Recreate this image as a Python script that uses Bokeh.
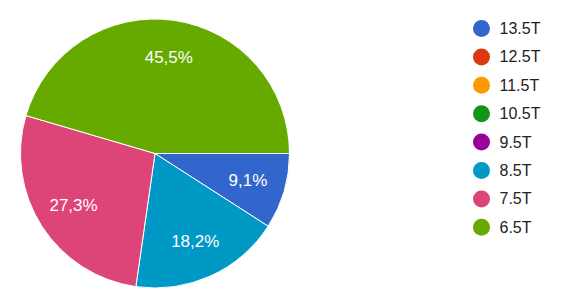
import numpy as np
from bokeh.plotting import figure
from bokeh.models import ColumnDataSource
from bokeh.core.properties import value
from bokeh.embed import file_html
from bokeh.resources import INLINE

categories = ["13.5T", "12.5T", "11.5T", "10.5T", "9.5T", "8.5T", "7.5T", "6.5T"]
counts = [1, 0, 0, 0, 0, 2, 3, 5]
colors = ["#3366cc", "#dc3912", "#ff9900", "#109618", "#990099", "#0099c6", "#dd4477", "#66aa00"]

W, H = 562, 306
CX, CY, R = 154.5, 153.0, 134.5

vals = np.array(counts, dtype=float)
frac = vals / vals.sum()
ends = np.cumsum(frac) * 2 * np.pi
starts = ends - frac * 2 * np.pi
mask = vals > 0

# clockwise from 3 o'clock
src = ColumnDataSource(dict(
    start=-starts[mask], end=-ends[mask],
    color=[c for c, m in zip(colors, mask) if m],
))
mid = -(starts + ends) / 2
lab_r = 0.72 * R
lab = ColumnDataSource(dict(
    x=(CX + lab_r * np.cos(mid))[mask],
    y=(CY + lab_r * np.sin(mid))[mask],
    t=[f"{f*100:.1f}%".replace(".", ",") for f, m in zip(frac, mask) if m],
))

p = figure(width=W, height=H, x_range=(0, W), y_range=(0, H),
           output_backend="svg", toolbar_location=None, min_border=0)
p.axis.visible = False
p.grid.visible = False
p.outline_line_color = None
p.background_fill_color = "white"
p.border_fill_color = "white"

p.wedge(x=CX, y=CY, radius=R, start_angle="start", end_angle="end",
        direction="clock", fill_color="color", line_color="white",
        line_width=1, source=src)
p.text(x="x", y="y", text="t", source=lab, text_color="white",
       text_font=value("Liberation Sans"), text_font_size="17px",
       text_align="center", text_baseline="middle")

# legend
n = len(categories)
ly = H - (28 + 28.4 * np.arange(n))
leg = ColumnDataSource(dict(x=[481] * n, tx=[499] * n, y=ly, c=colors, t=categories))
p.scatter(x="x", y="y", size=17, marker="circle", fill_color="c",
          line_color=None, source=leg)
p.text(x="tx", y="y", text="t", source=leg, text_color="#222222",
       text_font=value("Liberation Sans"), text_font_size="16px",
       text_align="left", text_baseline="middle")

open("out.html", "w").write(file_html(p, INLINE))
